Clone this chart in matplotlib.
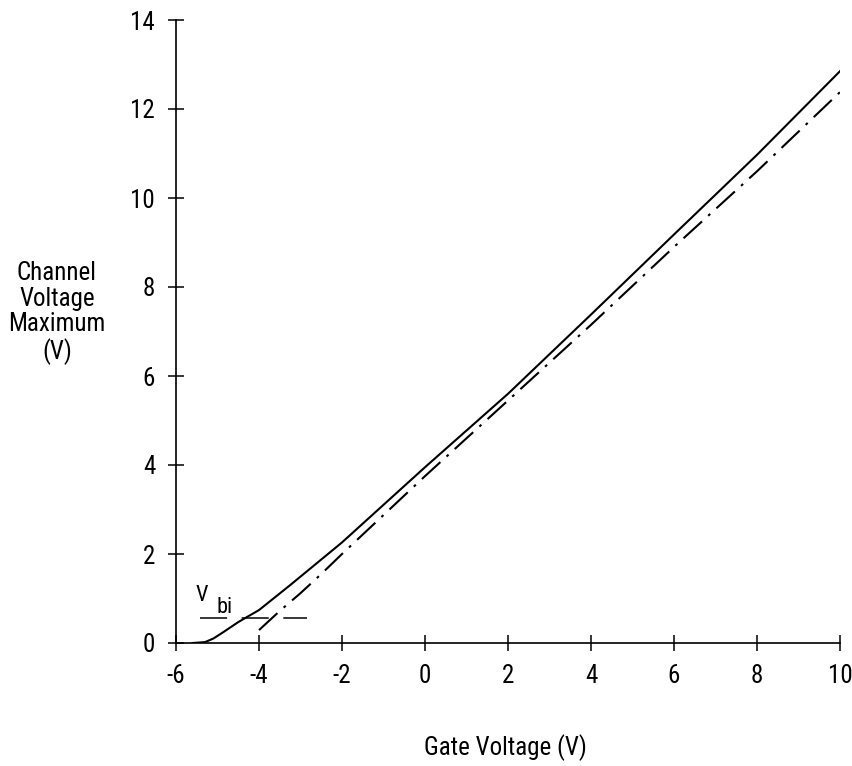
import matplotlib
matplotlib.use("Agg")
import matplotlib.pyplot as plt
from matplotlib import font_manager

# ---- data ----
gate_solid = [-5.6, -5.3, -5.1, -4.85, -4.5, -4.0, -3.25, -2.0, 0.0, 2.0, 4.0, 6.0, 8.0, 10.0]
chan_solid = [0.0, 0.02, 0.1, 0.25, 0.47, 0.74, 1.3, 2.26, 3.95, 5.6, 7.38, 9.18, 10.97, 12.85]

gate_dashdot = [-4.0, -3.5, -3.0, -2.5, -2.0, 0.0, 2.0, 4.0, 6.0, 8.0, 10.0]
chan_dashdot = [0.29, 0.72, 1.12, 1.55, 2.0, 3.75, 5.45, 7.15, 8.9, 10.6, 12.38]

vbi_x = [-5.42, -2.85]
vbi_y = [0.57, 0.57]

x_ticks = [-6, -4, -2, 0, 2, 4, 6, 8, 10]
y_ticks = [0, 2, 4, 6, 8, 10, 12, 14]

# ---- font: a narrow sans if one is around, else Liberation Sans ----
FONT = ["Liberation Sans", "DejaVu Sans"]
STRETCH = "normal"
entries = font_manager.fontManager.ttflist
names = {f.name for f in entries}
for narrow in ("Liberation Sans Narrow", "Roboto Condensed", "Open Sans Condensed",
               "Noto Sans Condensed", "Arial Narrow"):
    if narrow in names:
        FONT = [narrow, "DejaVu Sans"]
        break
else:
    for f in entries:
        if f.name in ("Noto Sans", "Roboto", "Open Sans") and str(f.stretch) in ("condensed", "semi-condensed", "300", "400"):
            FONT = [f.name, "DejaVu Sans"]
            STRETCH = "condensed"
            break

plt.rcParams["font.family"] = FONT
plt.rcParams["font.stretch"] = STRETCH
plt.rcParams["axes.unicode_minus"] = False
plt.rcParams["lines.scale_dashes"] = False

fig = plt.figure(figsize=(8.53, 7.66), dpi=100)
ax = fig.add_axes([176 / 853, 1 - 643 / 766, 664 / 853, 623 / 766])

ax.plot(gate_solid, chan_solid, color="black", lw=1.5)
ax.plot(gate_dashdot, chan_dashdot, color="black", lw=1.5,
        dashes=(18, 6, 2, 6))
ax.plot(vbi_x, vbi_y, color="black", lw=1.1, dashes=(19.5, 10.5))

ax.text(-5.39, 0.94, "V", fontsize=16, ha="center", va="baseline")
ax.text(-4.82, 0.67, "bi", fontsize=16, ha="center", va="baseline")

ax.set_xlim(-6, 10)
ax.set_ylim(0, 14)
ax.set_xticks(x_ticks)
ax.set_yticks(y_ticks)
for s in ("top", "right"):
    ax.spines[s].set_visible(False)
for s in ("left", "bottom"):
    ax.spines[s].set_linewidth(1.2)
ax.tick_params(direction="inout", length=12, width=1.1, labelsize=18)
ax.tick_params(axis="y", pad=9)
ax.tick_params(axis="x", pad=9)

fig.text(57 / 853, 1 - 313 / 766, "Channel\nVoltage\nMaximum\n(V)",
         fontsize=18, ha="center", va="center", linespacing=1.1)
fig.text(505 / 853, 1 - 748 / 766, "Gate Voltage (V)", fontsize=18,
         ha="center", va="center")

fig.savefig("out.png", dpi=100)
